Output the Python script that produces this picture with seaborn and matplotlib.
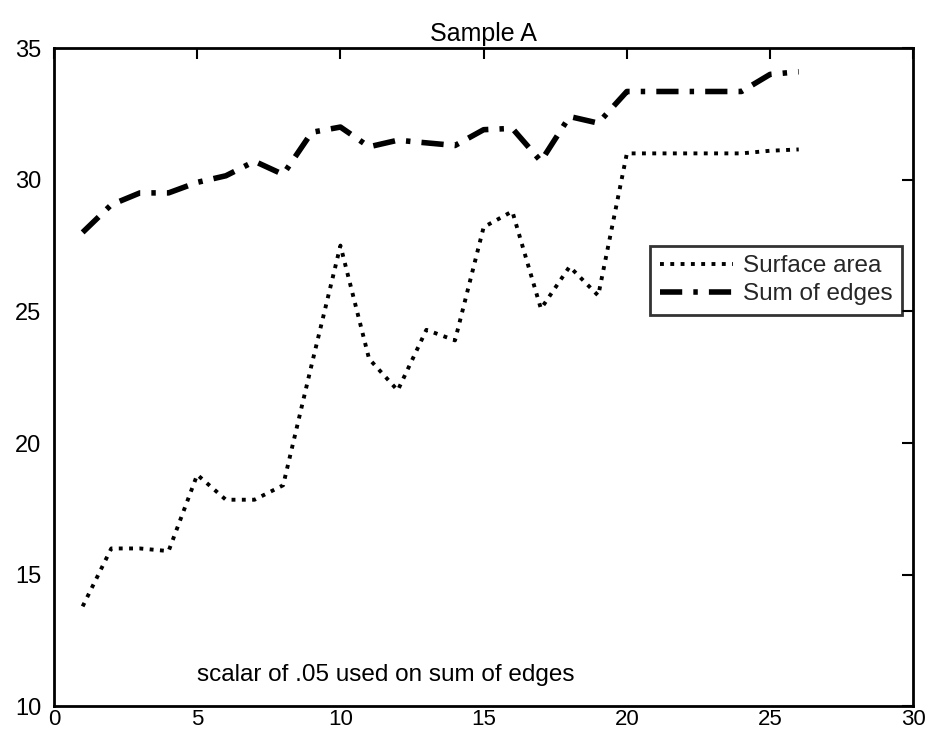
import matplotlib
matplotlib.use("Agg")
import matplotlib.pyplot as plt
import seaborn as sns
import pandas as pd

x_vals = list(range(1, 27))
surface_area = [13.8, 16.0, 16.0, 15.9, 18.8, 17.85, 17.85, 18.4, 23.0, 27.5,
                23.2, 22.0, 24.3, 23.9, 28.2, 28.8, 25.1, 26.7, 25.6, 31.0,
                31.0, 31.0, 31.0, 31.0, 31.1, 31.15]
sum_of_edges = [28.0, 29.05, 29.5, 29.5, 29.9, 30.15, 30.7, 30.2, 31.8, 32.0,
                31.25, 31.5, 31.4, 31.3, 31.9, 31.95, 30.7, 32.4, 32.15, 33.35,
                33.35, 33.35, 33.35, 33.35, 34.0, 34.1]
title = "Sample A"
labels = ["Surface area", "Sum of edges"]
note = "scalar of .05 used on sum of edges"
xticks = [0, 5, 10, 15, 20, 25, 30]
yticks = [10, 15, 20, 25, 30, 35]

sns.set_theme(style="white")
plt.rcParams['font.family'] = ['Liberation Sans', 'DejaVu Sans']

df = pd.DataFrame({"x": x_vals, "sa": surface_area, "se": sum_of_edges})

fig, ax = plt.subplots(figsize=(9.31, 7.39), dpi=100)
fig.subplots_adjust(left=0.058, right=0.981, bottom=0.044, top=0.935)

sns.lineplot(data=df, x="x", y="sa", ax=ax, color="black", linewidth=2.8,
             linestyle=":", label=labels[0])
sns.lineplot(data=df, x="x", y="se", ax=ax, color="black", linewidth=4,
             linestyle=(0, (4, 2, 0.8, 2)), label=labels[1])

ax.set_xlim(0, 30)
ax.set_ylim(10, 35)
ax.set_xticks(xticks)
ax.set_yticks(yticks)
ax.set_xlabel("")
ax.set_ylabel("")
ax.set_title(title, fontsize=18, color="black", pad=5)

ax.tick_params(axis="both", direction="in", length=8, width=1.5,
               top=True, right=True, colors="black")
ax.tick_params(axis="y", labelsize=17, pad=9)
ax.tick_params(axis="x", labelsize=16, pad=2)
for s in ax.spines.values():
    s.set_visible(True)
    s.set_color("black")
    s.set_linewidth(2)

ax.text(5, 11.2, note, fontsize=17.5, ha="left", va="center", color="black")

leg = ax.legend(loc="upper right", bbox_to_anchor=(0.987, 0.700), borderaxespad=0,
                fontsize=17.5, frameon=True, fancybox=False, edgecolor="black",
                handlelength=3.0, handletextpad=0.4, borderpad=0.4, labelspacing=0.25)
leg.get_frame().set_linewidth(2)

fig.savefig("out.png", dpi=100, facecolor="white")
